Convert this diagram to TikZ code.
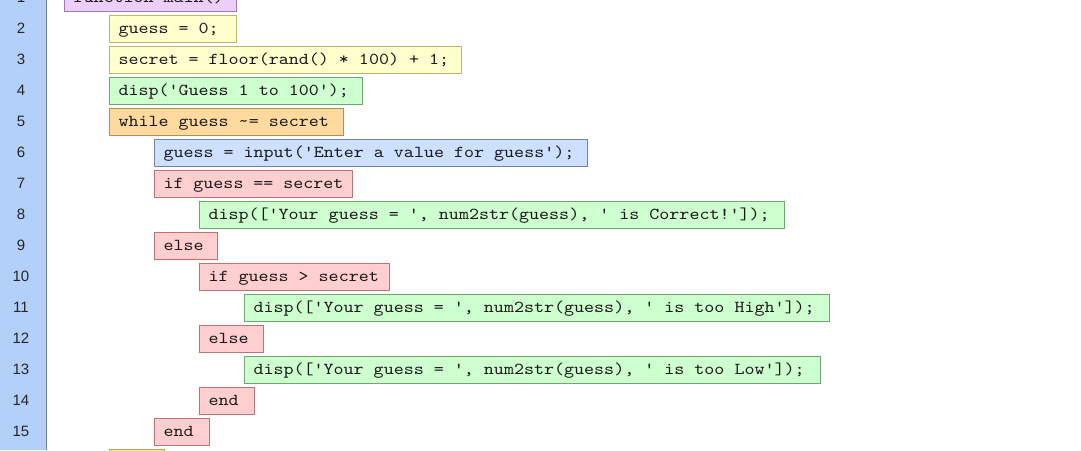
\documentclass[tikz,border=0pt]{standalone}
\usepackage{fontspec}
\newfontfamily\codefont{lmmono10-regular.otf}[FakeStretch=1.143]
\newfontfamily\numfont{Liberation Sans}
\definecolor{gutter}{RGB}{178,208,248}
\definecolor{gutterline}{RGB}{110,128,165}
\definecolor{pfill}{RGB}{236,206,250}\definecolor{pline}{RGB}{165,120,185}
\definecolor{yfill}{RGB}{255,255,206}\definecolor{yline}{RGB}{190,180,110}
\definecolor{gfill}{RGB}{206,255,206}\definecolor{gline}{RGB}{110,168,110}
\definecolor{ofill}{RGB}{255,218,158}\definecolor{oline}{RGB}{185,140,75}
\definecolor{bfill}{RGB}{206,224,255}\definecolor{bline}{RGB}{110,130,170}
\definecolor{rfill}{RGB}{255,206,206}\definecolor{rline}{RGB}{190,115,115}
\tikzset{
  codebox/.style 2 args={draw=#1, fill=#2, line width=1pt, anchor=north west,
    inner xsep=9pt, inner ysep=0pt, minimum height=27pt,
    text height=12pt, text depth=3pt, align=left, text=black!90,
    font=\codefont\fontsize{16.7}{20}\selectfont,
    execute at begin node={\spaceskip=0pt\xspaceskip=0pt\relax}},
  pbox/.style={codebox={pline}{pfill}},
  ybox/.style={codebox={yline}{yfill}},
  gbox/.style={codebox={gline}{gfill}},
  obox/.style={codebox={oline}{ofill}},
  bbox/.style={codebox={bline}{bfill}},
  rbox/.style={codebox={rline}{rfill}},
  lnum/.style={anchor=base, inner sep=0pt, font=\numfont\fontsize{15}{18}\selectfont, text=black!85}
}
\newcommand{\codeline}[5]{% #1 name, #2 style, #3 left, #4 right, #5 line number; text in next arg
  \pgfmathsetmacro\cltw{#4-#3-18}%
  \pgfmathsetmacro\cltop{15+(#5-2)*31}%
  \node[#2, text width=\cltw pt] (#1) at (#3, \cltop)}
\begin{document}
\begin{tikzpicture}[x=1pt,y=-1pt]
\useasboundingbox (0,0) rectangle (1081,450);
\fill[white] (0,0) rectangle (1081,450);
\fill[gutter] (0,0) rectangle (46,450);
\draw[gutterline, line width=1pt] (46.5,0) -- (46.5,450);
\foreach \n in {1,...,15} {
  \node[lnum] (n\n) at (21, {33+(\n-2)*31}) {\n};
}
\codeline{l1}{pbox}{64}{236}{1}{function main()};
\codeline{l2}{ybox}{109}{236}{2}{guess = 0;};
\codeline{l3}{ybox}{109}{461}{3}{secret = floor(rand() * 100) + 1;};
\codeline{l4}{gbox}{109}{362}{4}{disp('Guess 1 to 100');};
\codeline{l5}{obox}{109}{343}{5}{while guess \textasciitilde= secret};
\codeline{l6}{bbox}{154}{587}{6}{guess = input('Enter a value for guess');};
\codeline{l7}{rbox}{154}{352}{7}{if guess == secret};
\codeline{l8}{gbox}{199}{784}{8}{disp(['Your guess = ', num2str(guess), ' is Correct!']);};
\codeline{l9}{rbox}{154}{217}{9}{else};
\codeline{l10}{rbox}{199}{389}{10}{if guess > secret};
\codeline{l11}{gbox}{244}{829}{11}{disp(['Your guess = ', num2str(guess), ' is too High']);};
\codeline{l12}{rbox}{199}{263}{12}{else};
\codeline{l13}{gbox}{244}{820}{13}{disp(['Your guess = ', num2str(guess), ' is too Low']);};
\codeline{l14}{rbox}{199}{254}{14}{end};
\codeline{l15}{rbox}{154}{209}{15}{end};
\node[obox, draw=yline!70!oline, minimum width=55pt, text width=37pt] (l16) at (109,448.5) {};
\end{tikzpicture}
\end{document}
